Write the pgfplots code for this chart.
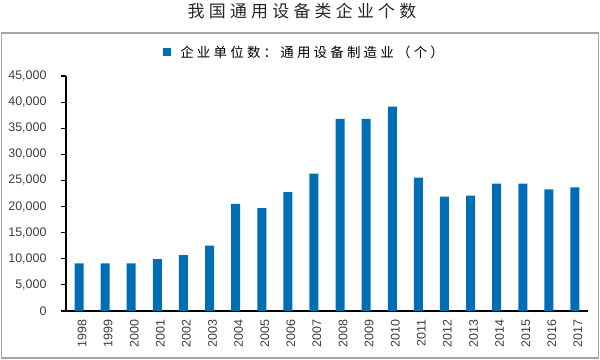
\documentclass[border=0pt]{standalone}
\usepackage{pgfplots}
\pgfplotsset{compat=1.18}
\usepackage{fontspec}
\setmainfont{Liberation Sans}
\newfontfamily\cjktitle[LetterSpace=25]{Noto Sans CJK SC}
\newfontfamily\cjkleg[LetterSpace=24]{Noto Sans CJK SC}
\definecolor{barblue}{RGB}{0,110,180}
\definecolor{framegray}{RGB}{165,165,165}
\definecolor{labgray}{RGB}{60,60,60}
\begin{document}
\begin{tikzpicture}
\begin{axis}[
  name=ax, at={(0,0)}, anchor=south west,
  scale only axis, width=522bp, height=235bp,
  xmin=-0.5, xmax=19.5, ymin=0, ymax=45000,
  axis x line*=bottom, axis y line*=left,
  axis line style={-, line width=1.2bp, black},
  tick align=outside,
  major tick length=5bp, minor tick length=5bp,
  every tick/.style={black, line width=1.2bp},
  ytick={0,5000,...,45000},
  scaled y ticks=false,
  /pgf/number format/.cd, 1000 sep={,}, assume math mode=true, /pgfplots/.cd,
  yticklabel style={font=\fontsize{12.5}{14}\selectfont, text=labgray, xshift=-11bp},
  xtick={0,...,19},
  xticklabels={1998,1999,2000,2001,2002,2003,2004,2005,2006,2007,2008,2009,2010,2011,2012,2013,2014,2015,2016,2017},
  xtick style={draw=none},
  minor xtick={-0.5,0.5,...,19.5},
  xticklabel style={font=\fontsize{12.5}{14}\selectfont, text=labgray, rotate=90, anchor=east, yshift=-3bp},
  ybar, bar width=9bp,
  legend style={at={(axis description cs:0.186,1.102)}, anchor=west, draw=none, fill=none,
    font=\cjkleg\fontsize{13.5}{16}\selectfont, inner sep=0pt,
    nodes={inner sep=1bp}},
  legend image code/.code={\fill[barblue] (0bp,-4bp) rectangle (8bp,4bp); \path (16bp,0bp);},
]
\addplot[fill=barblue, draw=none] coordinates {
(0,9130) (1,9130) (2,9130) (3,9950) (4,10700) (5,12500) (6,20500) (7,19700)
(8,22750) (9,26300) (10,36800) (11,36800) (12,39150) (13,25550) (14,21900)
(15,22100) (16,24400) (17,24400) (18,23300) (19,23650)};
\addlegendentry{企业单位数：通用设备制造业（个）}
\end{axis}
\pgfresetboundingbox
\path[use as bounding box] ([shift={(-66bp,-49bp)}]ax.south west) rectangle ([shift={(534bp,311bp)}]ax.south west);
\draw[framegray, line width=1.5bp] ([shift={(-64.5bp,-47bp)}]ax.south west) rectangle ([shift={(532.5bp,278bp)}]ax.south west);
\node[font=\cjktitle\fontsize{17}{20}\selectfont, text=black!85] at ([shift={(236bp,299.5bp)}]ax.south west) {我国通用设备类企业个数};
\end{tikzpicture}
\end{document}
